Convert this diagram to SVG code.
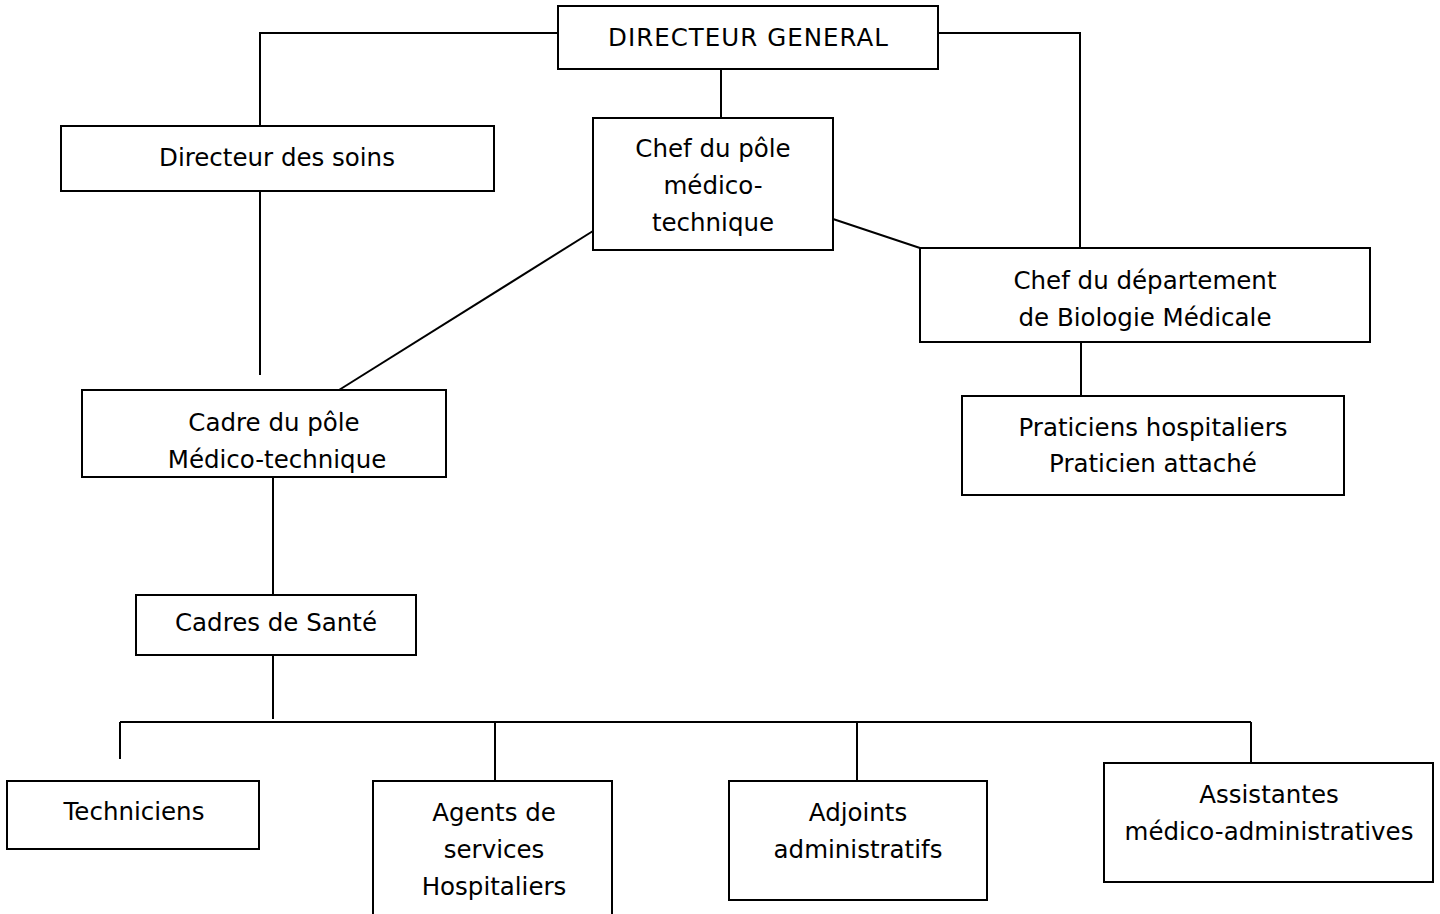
<svg xmlns="http://www.w3.org/2000/svg" width="1440" height="914" viewBox="0 0 1440 914">
  <style>
    .box { fill: #ffffff; stroke: #000000; stroke-width: 2; }
    .link { fill: none; stroke: #000000; stroke-width: 2; }
    text { font-family: "DejaVu Sans", "Liberation Sans", sans-serif; font-size: 24.5px; fill: #000000; text-anchor: middle; }
  </style>
  <rect width="1440" height="914" fill="#ffffff"/>

  <!-- connectors -->
  <g id="connectors" class="link">
    <polyline points="558,33 260,33 260,126"/>
    <polyline points="938,33 1080,33 1080,248"/>
    <line x1="721" y1="69" x2="721" y2="118"/>
    <line x1="260" y1="191" x2="260" y2="375"/>
    <line x1="593" y1="231" x2="339" y2="390"/>
    <line x1="833" y1="219" x2="920" y2="248"/>
    <line x1="1081" y1="342" x2="1081" y2="396"/>
    <line x1="273" y1="477" x2="273" y2="595"/>
    <line x1="273" y1="655" x2="273" y2="719"/>
    <line x1="120" y1="722" x2="1251" y2="722"/>
    <line x1="120" y1="722" x2="120" y2="759"/>
    <line x1="495" y1="722" x2="495" y2="781"/>
    <line x1="857" y1="722" x2="857" y2="781"/>
    <line x1="1251" y1="722" x2="1251" y2="763"/>
  </g>

  <g id="directeur-general">
    <rect class="box" x="558" y="6" width="380" height="63"/>
    <text x="748" y="46" textLength="280" lengthAdjust="spacing">DIRECTEUR GENERAL</text>
  </g>

  <g id="directeur-soins">
    <rect class="box" x="61" y="126" width="433" height="65"/>
    <text x="277" y="166">Directeur des soins</text>
  </g>

  <g id="chef-pole">
    <rect class="box" x="593" y="118" width="240" height="132"/>
    <text x="713" y="157">Chef du pôle</text>
    <text x="713" y="194">médico-</text>
    <text x="713" y="231">technique</text>
  </g>

  <g id="chef-departement">
    <rect class="box" x="920" y="248" width="450" height="94"/>
    <text x="1145" y="289">Chef du département</text>
    <text x="1145" y="326">de Biologie Médicale</text>
  </g>

  <g id="praticiens">
    <rect class="box" x="962" y="396" width="382" height="99"/>
    <text x="1153" y="436">Praticiens hospitaliers</text>
    <text x="1153" y="472">Praticien attaché</text>
  </g>

  <g id="cadre-pole">
    <rect class="box" x="82" y="390" width="364" height="87"/>
    <text x="274" y="431">Cadre du pôle</text>
    <text x="277" y="468">Médico-technique</text>
  </g>

  <g id="cadres-sante">
    <rect class="box" x="136" y="595" width="280" height="60"/>
    <text x="276" y="631">Cadres de Santé</text>
  </g>

  <g id="techniciens">
    <rect class="box" x="7" y="781" width="252" height="68"/>
    <text x="134" y="820">Techniciens</text>
  </g>

  <g id="agents">
    <rect class="box" x="373" y="781" width="239" height="140"/>
    <text x="494" y="821">Agents de</text>
    <text x="494" y="858">services</text>
    <text x="494" y="895">Hospitaliers</text>
  </g>

  <g id="adjoints">
    <rect class="box" x="729" y="781" width="258" height="119"/>
    <text x="858" y="821">Adjoints</text>
    <text x="858" y="858">administratifs</text>
  </g>

  <g id="assistantes">
    <rect class="box" x="1104" y="763" width="329" height="119"/>
    <text x="1269" y="803">Assistantes</text>
    <text x="1269" y="840">médico-administratives</text>
  </g>
</svg>
